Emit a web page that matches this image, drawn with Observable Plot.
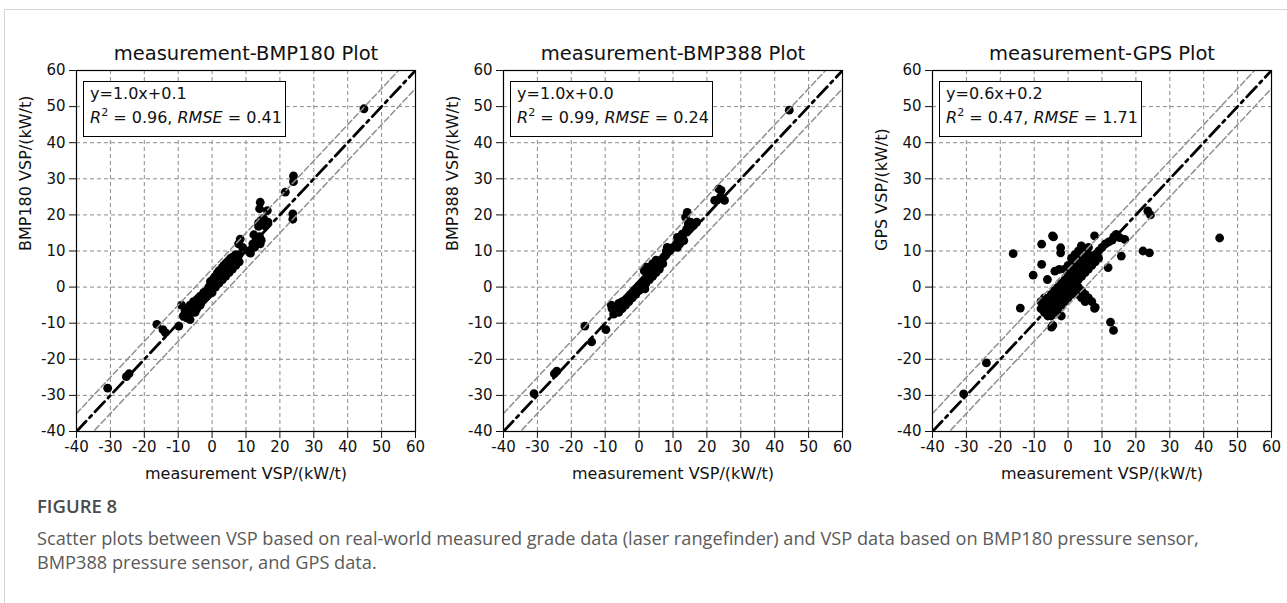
<!DOCTYPE html>
<html>
<head>
<meta charset="utf-8">
<script src="https://cdn.jsdelivr.net/npm/d3@7"></script>
<script src="https://cdn.jsdelivr.net/npm/@observablehq/plot@0.6"></script>
<style>
  body { margin: 0; background: #fff; }
  #wrap { position: relative; width: 1287px; height: 603px; overflow: hidden; background: #fff; }
  .card { position: absolute; left: 4px; top: 9px; width: 1283px; height: 594px; border-left: 1px solid #d4d4d4; border-top: 1px solid #d4d4d4; }
  .panel { position: absolute; top: 0; }
  .box { position: absolute; top: 81px; width: 203px; height: 56px; box-sizing: border-box; border: 1.3px solid #000; background: #fff;
         font-family: "DejaVu Sans", sans-serif; font-size: 16px; line-height: 24px; padding: 0 0 0 6px; color: #111; white-space: nowrap; }
  .box sup { font-size: 11px; line-height: 0; vertical-align: 7px; }
  .fig { position: absolute; left: 37px; top: 494px; font-family: "Open Sans", sans-serif; font-weight: 600; font-size: 18.5px; line-height: 24px; color: #4a4a4a; }
  .cap { position: absolute; left: 37px; top: 527px; font-family: "Open Sans", sans-serif; font-size: 18.2px; line-height: 23.5px; color: #5a5a5a; white-space: nowrap; }
</style>
</head>
<body>
<div id="wrap"><div class="card"></div></div>
<script>
// ---- data ----
const titles = ["measurement-BMP180 Plot", "measurement-BMP388 Plot", "measurement-GPS Plot"];
const yLabels = ["BMP180 VSP/(kW/t)", "BMP388 VSP/(kW/t)", "GPS VSP/(kW/t)"];
const xLabel = "measurement VSP/(kW/t)";
const fitLines = ["y=1.0x+0.1", "y=1.0x+0.0", "y=0.6x+0.2"];
const r2Values = ["0.96", "0.99", "0.47"];
const rmseValues = ["0.41", "0.24", "1.71"];
const axisDomain = [-40, 60];
const axisTicks = [-40, -30, -20, -10, 0, 10, 20, 30, 40, 50, 60];
const diagX = [-40, 60];
const bandOffset = 5;

const bmp180Pts = [
  [-30.8,-28],[-24.5,-24],[-25.3,-24.8],[-16.3,-10.3],[-14.5,-11.8],[-13.8,-12.6],[-9.8,-10.8],[-9,-5],
  [-8,-6.5],[-8.5,-8],[-7.5,-8.5],[-7,-6],[-7,-7.5],[-6.5,-5],[-6.5,-9],[-6,-7],[-6,-5.5],[-5.5,-6.5],[-5.5,-4],
  [-5,-5],[-5,-7],[-4.5,-3.5],[-4.5,-6],[-4,-4.5],[-4,-3],[-3.5,-5],[-3.5,-2.5],[-3,-4],[-3,-3],[-2.5,-1.5],
  [-2.5,-3.5],[-2,-2],[-2,-3],[-1.5,-1],[-1.5,-2.5],[-1,0],[-1,-2],[-0.5,-0.5],[-0.5,1.5],[0,0],[0,1.8],[0,-1.5],
  [0.5,1],[0.5,2.5],[1,1.5],[1,3],[1,0],[1.5,2],[1.5,3.8],[2,2.5],[2,4.5],[2,1],[2.5,3],[2.5,4.8],[3,3.5],[3,5.5],
  [3,2],[3.5,4],[3.5,6],[4,4.5],[4,6.5],[4,3],[4.5,5],[4.5,7],[5,5.5],[5,7.5],[5,4],[5.5,6],[5.5,8],[6,6.5],
  [6,8.2],[6,5],[6.5,7],[6.5,8.5],[7,7.5],[7,6],[7,9],[7.5,8],[8,7],[8,9],
  [8.3,13.3],[7.8,12],[9,11],[10.8,10],[11.3,9.4],[12,12],[12.3,14.5],[12.5,11],[13,13],[13.5,12],[14,14],
  [14.2,12],[14.5,13],[13.7,16.8],[13.7,17.8],[14.5,18.5],[15.2,19],[15.5,17],[14.2,23.5],[14,21.7],[16.3,21.2],
  [16.5,18],[21.6,26.3],[24,30.8],[24,29.2],[23.8,20.3],[23.8,18.8],[44.8,49.4]
];

const bmp388Pts = [
  [-31,-29.5],[-24.3,-23.3],[-25,-24],[-16,-10.8],[-14,-15.2],[-9.8,-11.8],[-8.2,-5],
  [-8,-6],[-7.5,-7.5],[-7,-5.5],[-7,-7],[-6.5,-6],[-6,-4.5],[-6,-7],[-5.5,-5],[-5,-4],[-5,-6],[-4.5,-4.5],
  [-4,-3.5],[-4,-5],[-3.5,-3],[-3,-2.5],[-3,-4],[-2.5,-2],[-2,-1.5],[-2,-3],[-1.5,-1],[-1,-0.5],[-1,-2],
  [-0.5,0],[0,0.5],[0,-1],[0.5,1],[1,1.5],[1,0],[1.7,-0.5],[1.5,2],[1.5,4.5],[2,2.5],[2,5.5],[2,1],[2.5,3],
  [2.5,4.8],[3,3.5],[3,5.5],[3,2],[3.5,4],[4,5],[4,6.5],[4,3],[4.5,5],[5,6],[5,7.5],[5,4],[5.5,6],[6,7],[6,5],
  [6.5,7.5],[7,8],[7,6.5],[7.5,8.5],[8,9],[8,10],[8.3,11],
  [9,10],[10,11],[11,12],[11.3,13.8],[11.3,11],[12,12],[12.7,14.7],[13.2,12.9],[13.5,15],[14,16],[14.5,17.5],
  [13.7,19.4],[15.2,18],[14.2,20.7],[16,17],[17,18],
  [22.3,24],[22.9,24],[24.2,26.8],[23.5,27.2],[25.2,24],[24,25],[44.3,49]
];

const gpsPts = [
  [-30.8,-29.6],[-24.1,-21],[-16.2,9.3],[-14.1,-5.8],[-10.3,3.3],[-7.8,11.9],[-7.8,6.3],[-6.1,2.1],
  [-4.6,14.2],[-4.3,13.9],[-3.9,4.4],[-2.6,4.9],[-2.2,10.9],[-2.2,9.5],[-4.9,-11.1],[-4.5,-10.6],[-2,-8],
  [-7.4,-6.2],[7.8,14.2],[3.9,11.4],[14.2,14.6],[15.2,13.7],[16.7,13.2],[15.7,8.6],[11.8,5.4],[8,-5.6],
  [7.8,-5.9],[12.5,-9.7],[13.4,-12],[22.1,10],[24,9.5],[23.5,21.1],[24.3,20],[44.7,13.6],
  [-8,-4],[-8,-6],[-7,-3],[-7,-5],[-7,-7],[-6,-4],[-6,-6],[-6,-8],[-5,-2],[-5,-4],[-5,-6],[-5,-8],
  [-4,-1],[-4,-3],[-4,-5],[-4,-7],[-3,-2],[-3,-4],[-3,-6],[-3,0],[-2,-1],[-2,-3],[-2,-5],[-2,1],
  [-1,0],[-1,-2],[-1,2],[-1,-4],[-1,5],[0,1],[0,-1],[0,3],[0,-3],[0,6],[1,2],[1,0],[1,4],[1,6],[1,8],[1,-2],
  [2,3],[2,1],[2,5],[2,7],[2,9],[2,-1],[3,4],[3,2],[3,6],[3,8],[3,10],[3,0],[3,-2],[4,5],[4,3],[4,7],[4,9],
  [4,-1],[4,-3],[5,6],[5,4],[5,8],[5,10],[5,-2],[5,-4],[6,7],[6,5],[6,9],[6,11],[6,-3],[7,8],[7,6],[7,-4],
  [8,9],[8,7],[9,10],[9,8],[10,11],[11,12],[12,12.5],[13,13],[13.5,14]
];

const panelPts = [bmp180Pts, bmp388Pts, gpsPts];
const panelLefts = [0, 427, 856];

// ---- drawing ----
const wrap = document.getElementById("wrap");
const plotW = 339, mL = 76, mR = 16, mT = 70, mB = 49;

panelPts.forEach((pts, i) => {
  const data = pts.map(([x, y]) => ({x, y}));
  const svg = Plot.plot({
    width: mL + plotW + mR, height: 480,
    marginLeft: mL, marginRight: mR, marginTop: mT, marginBottom: mB,
    style: {fontFamily: "'DejaVu Sans', sans-serif", fontSize: "15px", fontWeight: "400", color: "#111", background: "transparent", overflow: "visible"},
    x: {domain: axisDomain, ticks: axisTicks, tickFormat: d => String(d), label: null},
    y: {domain: axisDomain, ticks: axisTicks, tickFormat: d => String(d), label: null},
    marks: [
      Plot.gridX(axisTicks, {stroke: "#8a8a8a", strokeOpacity: 1, strokeDasharray: "4,3", strokeWidth: 1}),
      Plot.gridY(axisTicks, {stroke: "#8a8a8a", strokeOpacity: 1, strokeDasharray: "4,3", strokeWidth: 1}),
      Plot.dot(data, {x: "x", y: "y", r: 4.4, fill: "black", stroke: "none"}),
      Plot.line(diagX, {x: d => d, y: d => d + bandOffset, stroke: "#8f8f8f", strokeWidth: 1.5, strokeDasharray: "6,3", clip: true}),
      Plot.line(diagX, {x: d => d, y: d => d - bandOffset, stroke: "#8f8f8f", strokeWidth: 1.5, strokeDasharray: "6,3", clip: true}),
      Plot.line(diagX, {x: d => d, y: d => d, stroke: "black", strokeWidth: 2.8, strokeDasharray: "14,5,3,5", clip: true}),
      Plot.frame({stroke: "black", strokeWidth: 1.2}),
      Plot.axisX({ticks: axisTicks, tickFormat: d => String(d), tickSize: 7, tickPadding: 3, fontSize: 15, label: null}),
      Plot.axisY({ticks: axisTicks, tickFormat: d => String(d), tickSize: 7, tickPadding: 4, fontSize: 15, label: null}),
      Plot.text([titles[i]], {frameAnchor: "top", dy: -17, fontSize: 19.5, fontWeight: 400, fill: "#111", lineAnchor: "middle"}),
      Plot.text([xLabel], {frameAnchor: "bottom", dy: 42, fontSize: 16, fill: "#111", lineAnchor: "middle"}),
      Plot.text([yLabels[i]], {frameAnchor: "left", dx: -51, rotate: -90, fontSize: 16, fill: "#111", lineAnchor: "middle"})
    ]
  });
  const holder = document.createElement("div");
  holder.className = "panel";
  holder.style.left = panelLefts[i] + "px";
  holder.appendChild(svg);
  wrap.appendChild(holder);

  const box = document.createElement("div");
  box.className = "box";
  box.style.left = (panelLefts[i] + mL + 7) + "px";
  box.innerHTML = `<div>${fitLines[i]}</div><div><i>R</i><sup>2</sup> = ${r2Values[i]}, <i>RMSE</i> = ${rmseValues[i]}</div>`;
  wrap.appendChild(box);
});

const fig = document.createElement("div");
fig.className = "fig";
fig.textContent = "FIGURE 8";
wrap.appendChild(fig);

const cap = document.createElement("div");
cap.className = "cap";
cap.innerHTML = "Scatter plots between VSP based on real-world measured grade data (laser rangefinder) and VSP data based on BMP180 pressure sensor,<br>BMP388 pressure sensor, and GPS data.";
wrap.appendChild(cap);
</script>
</body>
</html>
